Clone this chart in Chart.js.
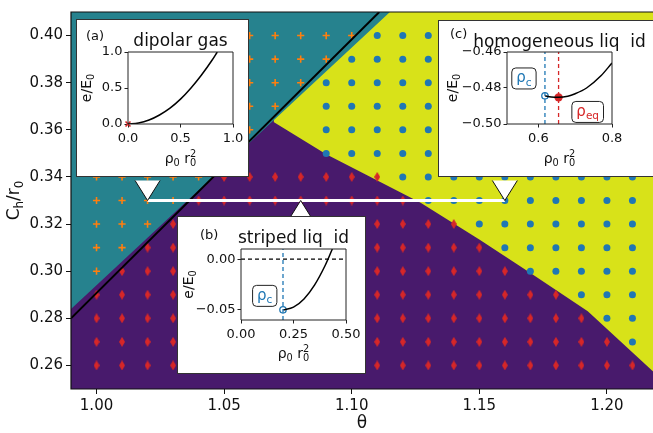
<!DOCTYPE html>
<html lang="en">
<head>
<meta charset="utf-8">
<title>Phase diagram</title>
<script src="https://cdn.jsdelivr.net/npm/chart.js@4.4.1/dist/chart.umd.min.js"></script>
<style>
  body { margin: 0; background: #fff; }
  #wrap { position: relative; width: 653px; height: 433px; overflow: hidden; }
  #phaseChart { display: block; }
  .inset { position: absolute; background: #fff; border: 1px solid #333; }
  .inset canvas { display: block; }
</style>
</head>
<body>
<div id="wrap">
  <canvas id="phaseChart" width="662" height="433"></canvas>
  <div class="inset" style="left:76px; top:19px;"><canvas id="gasChart" width="171" height="156"></canvas></div>
  <div class="inset" style="left:177px; top:216px;"><canvas id="stripeChart" width="187" height="156"></canvas></div>
  <div class="inset" style="left:438px; top:20px;"><canvas id="homChart" width="220" height="155"></canvas></div>
</div>
<script>
// ---- main phase diagram data ----
const thetaGrid = [1.00, 1.01, 1.02, 1.03, 1.04, 1.05, 1.06, 1.07, 1.08, 1.09, 1.10,
                   1.11, 1.12, 1.13, 1.14, 1.15, 1.16, 1.17, 1.18, 1.19, 1.20, 1.21];
const chGrid = [0.40, 0.39, 0.38, 0.37, 0.36, 0.35, 0.34, 0.33, 0.32, 0.31, 0.30, 0.29, 0.28, 0.27, 0.26];
// g = dipolar gas, s = striped liquid, h = homogeneous liquid, . = no point
function row(...runs) {
  let s = "";
  for (let i = 0; i < runs.length; i += 2) s += runs[i].repeat(runs[i + 1]);
  return s;
}
const phaseRows = [
  row("g", 11, "h", 11),            // 0.40
  row("g", 10, "h", 12),            // 0.39
  row("g", 9, "h", 13),             // 0.38
  row("g", 8, ".", 1, "h", 13),     // 0.37
  row("g", 7, ".", 2, "h", 13),     // 0.36
  row("g", 6, ".", 3, "h", 13),     // 0.35
  row("g", 5, "s", 7, "h", 10),     // 0.34
  row("g", 4, "s", 9, "h", 9),      // 0.33
  row("g", 3, "s", 12, "h", 7),     // 0.32
  row("g", 2, "s", 14, "h", 6),     // 0.31
  row("g", 1, "s", 16, "h", 5),     // 0.30
  row("s", 19, "h", 3),             // 0.29
  row("s", 20, "h", 2),             // 0.28
  row("s", 21, "h", 1),             // 0.27
  row("s", 22)                      // 0.26
];
const thetaTicks = [1.00, 1.05, 1.10, 1.15, 1.20];
const chTicks = [0.26, 0.28, 0.30, 0.32, 0.34, 0.36, 0.38, 0.40];

// phase boundaries
const gasEdgeTheta = [0.98, 1.125];
const gasEdgeY = [0.2739, 0.4201];
const liquidEdgeTheta = [1.0694, 1.090, 1.111, 1.127, 1.150, 1.169, 1.1925, 1.218, 1.23];
const liquidEdgeY = [0.3633, 0.3496, 0.338, 0.329, 0.3135, 0.300, 0.283, 0.2575, 0.2455];
const lineTheta = [0.99, 1.1108];
const lineY = [0.28, 0.41];
const cutTheta = [1.02, 1.16];
const cutY = 0.33;
const calloutTheta = [1.02, 1.08, 1.16];
const calloutSide = [-1, 1, -1];

// ---- inset data ----
const gasRho = [0, 0.1, 0.2, 0.3, 0.4, 0.5, 0.6, 0.7, 0.8, 0.85];
const gasE = [0, 0.014, 0.055, 0.125, 0.22, 0.345, 0.50, 0.68, 0.885, 1.0];
const stripeRho = [0.20, 0.25, 0.30, 0.35, 0.40, 0.435];
const stripeE = [-0.050, -0.0473, -0.0392, -0.0256, -0.0065, 0.010];
const stripeRhoC = 0.20, stripeEC = -0.05;
const homRho = [0.618, 0.635, 0.655, 0.68, 0.70, 0.731, 0.77, 0.80];
const homE = [-0.4843, -0.4850, -0.4852, -0.4846, -0.4832, -0.4800, -0.4732, -0.4661];
const homRhoC = 0.618, homEC = -0.4843;
const homRhoEq = 0.655, homEEq = -0.4852;

const FONT = '"DejaVu Sans", sans-serif';
const PURPLE = "#481a6c", TEAL = "#26828e", YELLOW = "#d8e219";
const ORANGE = "#ff7f0e", RED = "#d62728", BLUE = "#1f77b4";

function zip(xs, ys) { return xs.map((x, i) => ({x: x, y: Array.isArray(ys) ? ys[i] : ys})); }

function phasePoints(code) {
  const pts = [];
  chGrid.forEach((c, r) => {
    thetaGrid.forEach((t, i) => { if (phaseRows[r][i] === code) pts.push({x: t, y: c}); });
  });
  return pts;
}

function diamond(w, h, color) {
  const c = document.createElement("canvas");
  c.width = w; c.height = h;
  const g = c.getContext("2d");
  g.fillStyle = color;
  g.beginPath();
  g.moveTo(w / 2, 0); g.lineTo(w, h / 2); g.lineTo(w / 2, h); g.lineTo(0, h / 2);
  g.closePath(); g.fill();
  return c;
}

function fmt(v, d) {
  if (Math.abs(v) < 1e-9) return (0).toFixed(d);
  return v < 0 ? "\u2212" + Math.abs(v).toFixed(d) : v.toFixed(d);
}

// text with sub/superscripts; kind: "" normal, "sub", "sup", "ss" = stacked sub|sup
function richText(ctx, parts, x, y, size, color, align) {
  const small = size * 0.7;
  const wOf = (t, s) => { ctx.font = s + "px " + FONT; return ctx.measureText(t).width; };
  let total = 0;
  parts.forEach(([t, k]) => {
    if (k === "ss") { const [a, b] = t.split("|"); total += Math.max(wOf(a, small), wOf(b, small)); }
    else total += wOf(t, k ? small : size);
  });
  let cx = align === "center" ? x - total / 2 : x;
  ctx.fillStyle = color;
  ctx.textAlign = "left";
  ctx.textBaseline = "alphabetic";
  parts.forEach(([t, k]) => {
    if (k === "ss") {
      const [a, b] = t.split("|");
      ctx.font = small + "px " + FONT;
      ctx.fillText(a, cx, y + size * 0.22);
      ctx.fillText(b, cx, y - size * 0.45);
      cx += Math.max(ctx.measureText(a).width, ctx.measureText(b).width);
    } else {
      ctx.font = (k ? small : size) + "px " + FONT;
      const dy = k === "sub" ? size * 0.22 : (k === "sup" ? -size * 0.42 : 0);
      ctx.fillText(t, cx, y + dy);
      cx += ctx.measureText(t).width;
    }
  });
  return total;
}

const RHO_LABEL = [["\u03c1", ""], ["0", "sub"], [" ", ""], ["r", ""], ["0|2", "ss"]];
const E_LABEL = [["e/E", ""], ["0", "sub"]];

function strokeFrame(chart, color, width, openRight) {
  const {ctx, chartArea: a} = chart;
  const l = Math.round(a.left), t = Math.round(a.top), r = Math.round(a.right), b = Math.round(a.bottom);
  ctx.save();
  ctx.strokeStyle = color;
  ctx.lineWidth = width;
  ctx.beginPath();
  if (openRight) {
    ctx.moveTo(r + 2, t); ctx.lineTo(l, t); ctx.lineTo(l, b); ctx.lineTo(r + 2, b);
  } else {
    ctx.rect(l, t, r - l, b - t);
  }
  ctx.stroke();
  ctx.restore();
}

// ---- main chart ----
const mainDecor = {
  id: "mainDecor",
  afterDatasetsDraw(chart) {
    const {ctx, scales: {x, y}} = chart;
    strokeFrame(chart, "#111", 1.2, true);
    ctx.save();
    calloutTheta.forEach((t, i) => {
      const px = x.getPixelForValue(t), py = y.getPixelForValue(cutY);
      const by = py + calloutSide[i] * 20;
      ctx.beginPath();
      ctx.moveTo(px - 12.5, by); ctx.lineTo(px, py); ctx.lineTo(px + 12.5, by);
      ctx.closePath();
      ctx.fillStyle = "#fff"; ctx.fill();
      ctx.beginPath();
      ctx.moveTo(px - 12.5, by); ctx.lineTo(px, py); ctx.lineTo(px + 12.5, by);
      ctx.strokeStyle = "#111"; ctx.lineWidth = 1; ctx.stroke();
    });
    ctx.restore();
  },
  afterDraw(chart) {
    const {ctx, chartArea: a} = chart;
    ctx.save();
    richText(ctx, [["\u03b8", ""]], 362, 428, 17, "#111", "center");
    ctx.translate(19, (a.top + a.bottom) / 2);
    ctx.rotate(-Math.PI / 2);
    richText(ctx, [["C", ""], ["h", "sub"], ["/r", ""], ["0", "sub"]], 0, 0, 17, "#111", "center");
    ctx.restore();
  }
};

const fillSet = (data, fill, color, order) => ({
  data: data, showLine: true, fill: fill, backgroundColor: color,
  borderColor: "rgba(0,0,0,0)", borderWidth: 0, pointRadius: 0, order: order
});

const phaseChart = new Chart(document.getElementById("phaseChart"), {
  type: "scatter",
  data: {
    datasets: [
      fillSet([{x: 0.98, y: 0.42}, {x: 1.23, y: 0.42}], "start", PURPLE, 10),
      fillSet(zip(liquidEdgeTheta, liquidEdgeY), "end", YELLOW, 9),
      fillSet(zip(gasEdgeTheta, gasEdgeY), "end", TEAL, 8),
      { data: phasePoints("g"), pointStyle: "cross", pointRadius: 3.6, borderColor: ORANGE, borderWidth: 1.6, order: 5 },
      { data: phasePoints("s"), pointStyle: diamond(6, 10, RED), order: 5 },
      { data: phasePoints("h"), pointStyle: "circle", pointRadius: 3.5, backgroundColor: BLUE, borderWidth: 0, order: 5 },
      { data: zip(lineTheta, lineY), showLine: true, borderColor: "#000", borderWidth: 2, pointRadius: 0, order: 3 },
      { data: zip(cutTheta, cutY), showLine: true, borderColor: "#fff", borderWidth: 3, pointRadius: 0, order: 2 }
    ]
  },
  options: {
    responsive: false,
    animation: false,
    devicePixelRatio: 1,
    events: [],
    layout: { padding: { top: 4, right: 0, left: 0, bottom: 0 } },
    plugins: { legend: { display: false }, tooltip: { enabled: false } },
    scales: {
      x: {
        type: "linear", min: 0.99, max: 1.22, z: 1,
        afterBuildTicks: s => { s.ticks = thetaTicks.map(v => ({value: v})); },
        afterFit: s => { s.height = 44; },
        ticks: { callback: v => v.toFixed(2), font: {family: FONT, size: 15}, color: "#111", padding: 3, maxRotation: 0, autoSkip: false },
        grid: { drawOnChartArea: false, tickLength: 5, color: "#111" },
        border: { display: false }
      },
      y: {
        type: "linear", min: 0.25, max: 0.41, z: 1,
        afterBuildTicks: s => { s.ticks = chTicks.map(v => ({value: v})); },
        afterFit: s => { s.width = 71; },
        ticks: { callback: v => v.toFixed(2), font: {family: FONT, size: 15}, color: "#111", padding: 3, autoSkip: false },
        grid: { drawOnChartArea: false, tickLength: 5, color: "#111" },
        border: { display: false }
      }
    }
  },
  plugins: [mainDecor]
});
// keep 1.00 -> 1.20 spanning 510 px whatever the right edge ends up being
{
  const a = phaseChart.chartArea;
  phaseChart.options.scales.x.max = 0.99 + (a.right - a.left) / 2552;
  phaseChart.update();
}

// ---- insets ----
const insetDecor = {
  id: "insetDecor",
  afterDatasetsDraw(chart, args, o) {
    const {ctx, scales: {x, y}} = chart;
    strokeFrame(chart, "#222", 1, false);
    ctx.save();
    (o.boxes || []).forEach(b => {
      const cx = x.getPixelForValue(b.x), cy = y.getPixelForValue(b.y);
      const parts = [["\u03c1", ""], [b.sub, "sub"]];
      ctx.font = "15px " + FONT;
      let w = ctx.measureText("\u03c1").width;
      ctx.font = 15 * 0.7 + "px " + FONT;
      w += ctx.measureText(b.sub).width;
      const bw = w + 9, bh = 21;
      ctx.beginPath();
      ctx.roundRect(cx - bw / 2, cy - bh / 2, bw, bh, 4);
      ctx.fillStyle = "#fff"; ctx.fill();
      ctx.strokeStyle = "#222"; ctx.lineWidth = 1; ctx.stroke();
      richText(ctx, parts, cx, cy + 4, 15, b.color, "center");
    });
    ctx.restore();
  },
  afterDraw(chart, args, o) {
    const {ctx, chartArea: a} = chart;
    const mid = (a.left + a.right) / 2;
    ctx.save();
    richText(ctx, [[o.tag, ""]], o.tagX, o.tagY, 13, "#111", "left");
    richText(ctx, [[o.title, ""]], mid, o.titleY, 17, "#111", "center");
    richText(ctx, RHO_LABEL, mid, o.xLabelY, 14, "#111", "center");
    ctx.translate(o.yLabelX, (a.top + a.bottom) / 2);
    ctx.rotate(-Math.PI / 2);
    richText(ctx, E_LABEL, 0, 0, 14, "#111", "center");
    ctx.restore();
  }
};

function insetScales(o) {
  const axis = (min, max, ticks, dec) => ({
    type: "linear", min: min, max: max, z: 1,
    afterBuildTicks: s => { s.ticks = ticks.map(v => ({value: v})); },
    ticks: { callback: v => fmt(v, dec), font: {family: FONT, size: 13}, color: "#111", padding: 2, maxRotation: 0, autoSkip: false },
    grid: { drawOnChartArea: false, tickLength: 3.5, color: "#222" },
    border: { display: false }
  });
  const x = axis(o.xMin, o.xMax, o.xTicks, o.xDec);
  x.afterFit = s => { s.height = o.xH; };
  x.ticks.padding = 3;
  const y = axis(o.yMin, o.yMax, o.yTicks, o.yDec);
  y.afterFit = s => { s.width = o.left; };
  return {x: x, y: y};
}

function makeInset(id, datasets, o, decor) {
  return new Chart(document.getElementById(id), {
    type: "scatter",
    data: { datasets: datasets },
    options: {
      responsive: false,
      animation: false,
      devicePixelRatio: 1,
      events: [],
      layout: { padding: { top: o.top, right: o.right, left: 0, bottom: 0 } },
      plugins: { legend: { display: false }, tooltip: { enabled: false }, insetDecor: decor },
      scales: insetScales(o)
    },
    plugins: [insetDecor]
  });
}

const curve = data => ({ data: data, showLine: true, borderColor: "#000", borderWidth: 1.5, pointRadius: 0, cubicInterpolationMode: "monotone" });
const dashed = (data, color) => ({ data: data, showLine: true, borderColor: color, borderWidth: 1.3, borderDash: [4, 3], pointRadius: 0 });

// (a) dipolar gas
makeInset("gasChart", [
  curve(zip(gasRho, gasE)),
  { data: [{x: 0, y: 0}], pointStyle: "crossRot", pointRadius: 3.5, borderColor: RED, borderWidth: 1.6, clip: false }
], { left: 51, top: 32, right: 15, xH: 52, xMin: 0, xMax: 1, xTicks: [0, 0.5, 1], xDec: 1, yMin: 0, yMax: 1, yTicks: [0, 0.5, 1], yDec: 1 },
{ tag: "(a)", tagX: 9, tagY: 20, title: "dipolar gas", titleY: 26, xLabelY: 143, yLabelX: 14 });

// (b) striped liquid
makeInset("stripeChart", [
  dashed([{x: 0, y: 0}, {x: 0.5, y: 0}], "#000"),
  dashed([{x: stripeRhoC, y: -0.06}, {x: stripeRhoC, y: 0.01}], BLUE),
  curve(zip(stripeRho, stripeE)),
  { data: [{x: stripeRhoC, y: stripeEC}], pointStyle: "circle", pointRadius: 3.2, backgroundColor: "rgba(0,0,0,0)", borderColor: BLUE, borderWidth: 1.3 }
], { left: 63, top: 32, right: 19, xH: 53, xMin: 0, xMax: 0.5, xTicks: [0, 0.25, 0.5], xDec: 2, yMin: -0.06, yMax: 0.01, yTicks: [-0.05, 0], yDec: 2 },
{ tag: "(b)", tagX: 22, tagY: 22, title: "striped liq\u2007id", titleY: 26, xLabelY: 141, yLabelX: 15,
  boxes: [{x: 0.113, y: -0.0362, sub: "c", color: BLUE}] });

// (c) homogeneous liquid
makeInset("homChart", [
  dashed([{x: homRhoC, y: -0.50}, {x: homRhoC, y: -0.46}], BLUE),
  dashed([{x: homRhoEq, y: -0.50}, {x: homRhoEq, y: -0.46}], RED),
  curve(zip(homRho, homE)),
  { data: [{x: homRhoC, y: homEC}], pointStyle: "circle", pointRadius: 3.2, backgroundColor: "rgba(0,0,0,0)", borderColor: BLUE, borderWidth: 1.3 },
  { data: [{x: homRhoEq, y: homEEq}], pointStyle: "circle", pointRadius: 4.2, backgroundColor: RED, borderWidth: 0 }
], { left: 68, top: 31, right: 47, xH: 52, xMin: 0.515, xMax: 0.8, xTicks: [0.6, 0.8], xDec: 1, yMin: -0.50, yMax: -0.46, yTicks: [-0.50, -0.48, -0.46], yDec: 2 },
{ tag: "(c)", tagX: 11, tagY: 17, title: "homogeneous liq\u2007id", titleY: 26, xLabelY: 142, yLabelX: 18,
  boxes: [{x: 0.561, y: -0.4747, sub: "c", color: BLUE}, {x: 0.734, y: -0.4933, sub: "eq", color: RED}] });
</script>
</body>
</html>
